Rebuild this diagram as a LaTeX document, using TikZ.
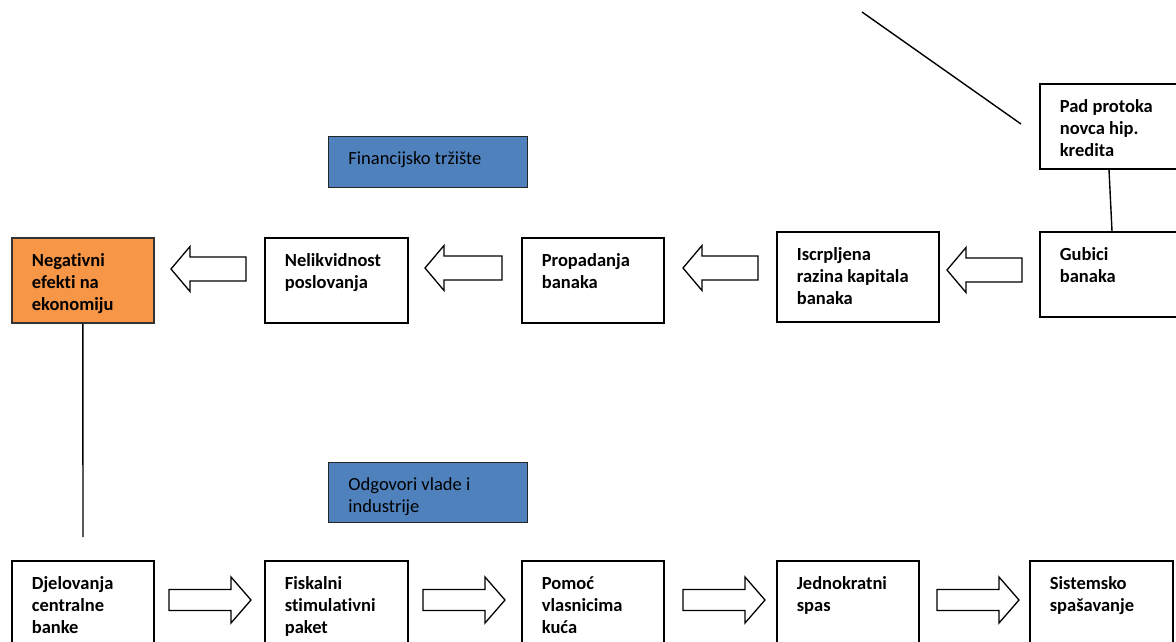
\documentclass[tikz,border=0pt]{standalone}
\usepackage{fontspec}
\setmainfont{Carlito}[Ligatures=NoCommon]
\usetikzlibrary{calc}
\definecolor{orng}{HTML}{F79646}
\definecolor{blu}{HTML}{4F81BD}
\newcommand\boxtext[3]{\begin{minipage}[t][#2pt][t]{#1pt}\raggedright\strut #3\end{minipage}}
\newcommand\myLarr[3]{\draw[barrow] (#2,{#3-12}) -- ({#1+19},{#3-12}) -- ({#1+19},{#3-22.5}) -- (#1,#3) -- ({#1+19},{#3+22.5}) -- ({#1+19},{#3+12}) -- (#2,{#3+12}) -- cycle;}
\newcommand\myRarr[3]{\draw[barrow] (#1,{#3-10.5}) -- ({#2-20},{#3-10.5}) -- ({#2-20},{#3-23}) -- (#2,#3) -- ({#2-20},{#3+23}) -- ({#2-20},{#3+10.5}) -- (#1,{#3+10.5}) -- cycle;}
\tikzset{
  box/.style={draw=black, line width=1.7pt, fill=white, inner xsep=20pt, inner ysep=13pt,
    anchor=north west, font=\bfseries\fontsize{18.5}{22}\selectfont},
  lbl/.style={draw=black!85, line width=0.9pt, fill=blu, inner xsep=20pt, inner ysep=13pt,
    anchor=north west, font=\fontsize{18.5}{22}\selectfont},
  barrow/.style={draw=black, line width=1.3pt, fill=white, line join=miter},
  conn/.style={draw=black, line width=1.4pt}
}
\begin{document}
\begin{tikzpicture}[x=1pt,y=-1pt]
\useasboundingbox (0,0) rectangle (1176,641);
\fill[white] (0,0) rectangle (1176,641);
\clip (0,0) rectangle (1176,641);

% top row
\node[box, fill=orng, draw=black!80] (neg) at (11,237) {\boxtext{102}{59}{Negativni\\efekti na\\ekonomiju}};
\node[box] (nel) at (264,237) {\boxtext{103}{59}{Nelikvidnost\\poslovanja}};
\node[box] (pro) at (521,237) {\boxtext{102}{59}{Propadanja\\banaka}};
\node[box] (isc) at (776,231) {\boxtext{122}{64}{Iscrpljena\\razina kapitala\\banaka}};
\node[box] (gub) at (1039,231) {\boxtext{102}{59}{Gubici\\banaka}};
\node[box] (pad) at (1039,83) {\boxtext{102}{59}{Pad protoka\\novca hip.\\kredita}};

% labels
\node[lbl] (fin) at (328,136) {\begin{minipage}[t][25pt][t]{159pt}\strut Financijsko tržište\end{minipage}};
\node[lbl] (odg) at (328,462) {\begin{minipage}[t][34pt][t]{159pt}\raggedright\strut Odgovori vlade i\\industrije\end{minipage}};

% bottom row
\node[box] (dje) at (11,560) {\boxtext{102}{59}{Djelovanja\\centralne\\banke}};
\node[box] (fis) at (264,560) {\boxtext{103}{59}{Fiskalni\\stimulativni\\paket}};
\node[box] (pom) at (521,560) {\boxtext{102}{59}{Pomoć\\vlasnicima\\kuća}};
\node[box] (jed) at (776,560) {\boxtext{102}{59}{Jednokratni\\spas}};
\node[box] (sis) at (1029,560) {\boxtext{103}{59}{Sistemsko\\spašavanje}};

% connectors
\coordinate (negend) at (83,537);
\draw[conn] (neg.south) -- (negend);
\draw[conn] ($(pad.south west)+(70,0)$) -- ($(gub.north west)+(73,0)$);
\coordinate (d1) at (862,12);
\coordinate (d2) at (1021,124);
\draw[conn] (d1) -- (d2);

% block arrows, top row (pointing left)
\myLarr{171}{246}{269}
\myLarr{425}{502}{268}
\myLarr{683}{758}{268}
\myLarr{947}{1022}{270}

% block arrows, bottom row (pointing right)
\myRarr{169}{251}{600}
\myRarr{423}{505}{600}
\myRarr{683}{765}{600}
\myRarr{937}{1019}{600}
\end{tikzpicture}
\end{document}
